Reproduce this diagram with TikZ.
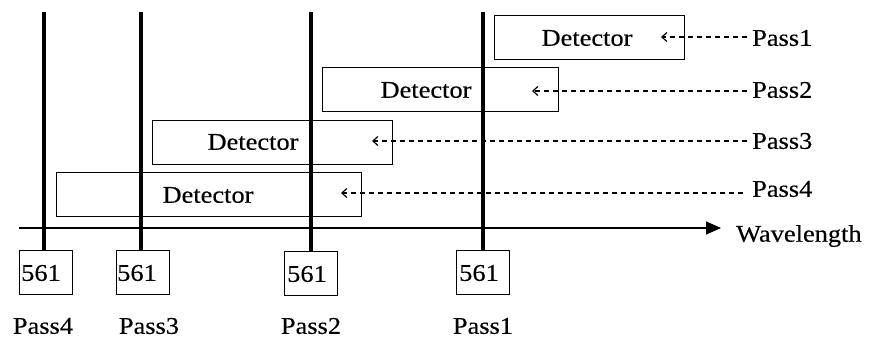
\documentclass[tikz,border=0pt]{standalone}
\usepackage{fontspec}
\setmainfont[FakeStretch=1.1,FakeBold=0.3]{Liberation Serif}
\usetikzlibrary{arrows.meta}
\begin{document}
\begin{tikzpicture}[x=1pt,y=-1pt,
  txt/.style={font=\fontsize{24}{26}\selectfont, inner sep=0pt},
  detbox/.style={draw, line width=1.4pt, rectangle, inner sep=0pt},
  numbox/.style={draw, line width=1.4pt, rectangle, inner sep=0pt, minimum width=53pt, minimum height=44pt, anchor=north west},
  peak/.style={line width=4.5pt},
  passarrow/.style={dashed, dash pattern=on 5pt off 4pt, line width=1.2pt, -{Straight Barb[length=5pt,width=9pt,line width=1.2pt]}},
  axis/.style={line width=1.4pt, -{Triangle[length=15pt,width=13pt]}}
]
\useasboundingbox (0,0) rectangle (870,340);

% detector boxes
\node[detbox, minimum width=190pt, minimum height=44pt, anchor=north west] (d1) at (494,15) {};
\node[detbox, minimum width=236pt, minimum height=44pt, anchor=north west] (d2) at (322,67) {};
\node[detbox, minimum width=240pt, minimum height=44pt, anchor=north west] (d3) at (152,120) {};
\node[detbox, minimum width=305pt, minimum height=44pt, anchor=north west] (d4) at (56,172) {};
\node[txt] (d1t) at (587,38) {Detector};
\node[txt] (d2t) at (426,90) {Detector};
\node[txt] (d3t) at (253,142) {Detector};
\node[txt] (d4t) at (208,195) {Detector};

% 561 boxes
\node[numbox] (b4) at (19,250) {};
\node[numbox] (b3) at (116,250) {};
\node[numbox] (b2) at (284,251) {};
\node[numbox] (b1) at (456,250) {};
\node[txt, anchor=west] (b4t) at (21,273) {561};
\node[txt, anchor=west] (b3t) at (117,273) {561};
\node[txt, anchor=west] (b2t) at (287,274) {561};
\node[txt, anchor=west] (b1t) at (459,273) {561};

% peaks
\coordinate (t4) at (44,12);
\coordinate (t3) at (141,12);
\coordinate (t2) at (311,12);
\coordinate (t1) at (483,12);
\draw[peak] (t4) -- (t4 |- b4.north);
\draw[peak] (t3) -- (t3 |- b3.north);
\draw[peak] (t2) -- (t2 |- b2.north);
\draw[peak] (t1) -- (t1 |- b1.north);

% axis
\coordinate (ax0) at (19,228);
\node[txt, anchor=west] (wl) at (736,236) {Wavelength};
\coordinate (ax1) at (721,228);
\draw[axis] (ax0) -- (ax1);

% right labels and dashed arrows
\node[txt, anchor=west] (p1r) at (752,38) {Pass1};
\node[txt, anchor=west] (p2r) at (752,90) {Pass2};
\node[txt, anchor=west] (p3r) at (752,141) {Pass3};
\node[txt, anchor=west] (p4r) at (752,189) {Pass4};
\coordinate (a1) at (661,37);
\coordinate (a2) at (532,91);
\coordinate (a3) at (372,141);
\coordinate (a4) at (341,193);
\draw[passarrow] (747,37) -- (a1);
\draw[passarrow] (747,91) -- (a2);
\draw[passarrow] (747,141) -- (a3);
\draw[passarrow] (743,193) -- (a4);

% bottom labels
\node[txt] (p4b) at (43,326) {Pass4};
\node[txt] (p3b) at (149,326) {Pass3};
\node[txt] (p2b) at (311,326) {Pass2};
\node[txt] (p1b) at (483,326) {Pass1};
\end{tikzpicture}
\end{document}
